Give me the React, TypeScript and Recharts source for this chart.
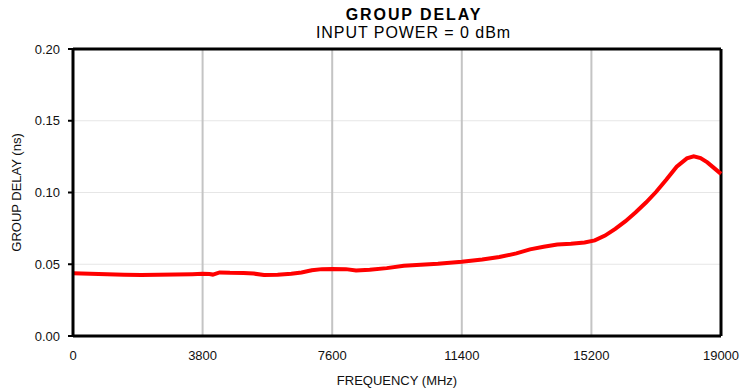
import {
  LineChart,
  Line,
  XAxis,
  YAxis,
  CartesianGrid,
  ReferenceLine,
  Label,
} from 'recharts'

// frequency in MHz, group delay in ns
const freqMHz = [
  0, 500, 1000, 1500, 2000, 2500, 3000, 3500, 3800, 4000, 4100, 4300, 4600, 5000,
  5300, 5600, 6000, 6400, 6700, 7000, 7300, 7600, 8000, 8300, 8700, 9200, 9700,
  10200, 10700, 11400, 12000, 12500, 13000, 13400, 13800, 14200, 14600, 15000,
  15300, 15600, 15900, 16200, 16500, 16800, 17100, 17400, 17700, 18000, 18200,
  18400, 18600, 18800, 19000,
]
const delayNs = [
  0.0438, 0.0434, 0.043, 0.0427, 0.0425, 0.0426, 0.0428, 0.0431, 0.0433, 0.0432,
  0.0428, 0.0443, 0.044, 0.0439, 0.0435, 0.0425, 0.0427, 0.0434, 0.0442, 0.0458,
  0.0466, 0.0467, 0.0466, 0.0456, 0.0462, 0.0473, 0.049, 0.0497, 0.0503, 0.0517,
  0.0533, 0.055, 0.0576, 0.0604, 0.0622, 0.0637, 0.0643, 0.0652, 0.0666, 0.07,
  0.0747, 0.08, 0.0862, 0.093, 0.1005, 0.109, 0.118, 0.1238, 0.1252, 0.124,
  0.121, 0.117, 0.113,
]
const xTicks = [0, 3800, 7600, 11400, 15200, 19000]
const yTicks = [0, 0.05, 0.1, 0.15, 0.2]

const data = freqMHz.map((f, i) => ({ f, d: delayNs[i] }))

const font = '"Liberation Sans", Arial, Helvetica, sans-serif'

export default function App() {
  return (
    <div
      style={{
        position: 'absolute',
        left: 0,
        top: 0,
        width: 740,
        height: 392,
        background: '#fff',
        fontFamily: font,
        color: '#000',
      }}
    >
      <div
        style={{
          position: 'absolute',
          left: 0,
          width: 828,
          top: 5.5,
          textAlign: 'center',
          fontSize: 16,
          lineHeight: 'normal',
          fontWeight: 'bold',
          letterSpacing: 1.9,
        }}
      >
        GROUP DELAY
      </div>
      <div
        style={{
          position: 'absolute',
          left: 0,
          width: 827,
          top: 24,
          textAlign: 'center',
          fontSize: 16,
          lineHeight: 'normal',
          letterSpacing: 0.95,
        }}
      >
        INPUT POWER = 0 dBm
      </div>
      <LineChart
        width={740}
        height={392}
        data={data}
        margin={{ top: 49, right: 19, bottom: 0, left: 0 }}
        style={{ position: 'absolute', left: 0, top: 0 }}
      >
        <CartesianGrid vertical={false} stroke="#e6e6e6" strokeWidth={1} />
        <CartesianGrid horizontal={false} stroke="#c4c4c4" strokeWidth={2} />
        <XAxis
          dataKey="f"
          type="number"
          domain={[0, 19000]}
          ticks={xTicks}
          height={56}
          tickLine={false}
          tickSize={0}
          tickMargin={15}
          axisLine={{ stroke: '#000', strokeWidth: 3 }}
          tick={{ fontSize: 13, fill: '#111', fontFamily: font }}
        >
          <Label
            value="FREQUENCY (MHz)"
            position="insideBottom"
            offset={7}
            style={{ fontSize: 13, fill: '#111', fontFamily: font }}
          />
        </XAxis>
        <YAxis
          type="number"
          domain={[0, 0.2]}
          ticks={yTicks}
          width={73}
          tickSize={5}
          tickMargin={8}
          tickLine={{ stroke: '#000', strokeWidth: 2 }}
          tickFormatter={v => v.toFixed(2)}
          axisLine={{ stroke: '#000', strokeWidth: 3 }}
          tick={{ fontSize: 13, fill: '#111', fontFamily: font }}
        >
          <Label
            value="GROUP DELAY (ns)"
            angle={-90}
            position="insideLeft"
            offset={16}
            style={{ fontSize: 13, fill: '#111', fontFamily: font, textAnchor: 'middle' }}
          />
        </YAxis>
        <ReferenceLine y={0.2} stroke="#000" strokeWidth={3} />
        <ReferenceLine x={19000} stroke="#000" strokeWidth={3} />
        <Line
          type="linear"
          dataKey="d"
          stroke="#ff0000"
          strokeWidth={4}
          dot={false}
          isAnimationActive={false}
        />
      </LineChart>
    </div>
  )
}
